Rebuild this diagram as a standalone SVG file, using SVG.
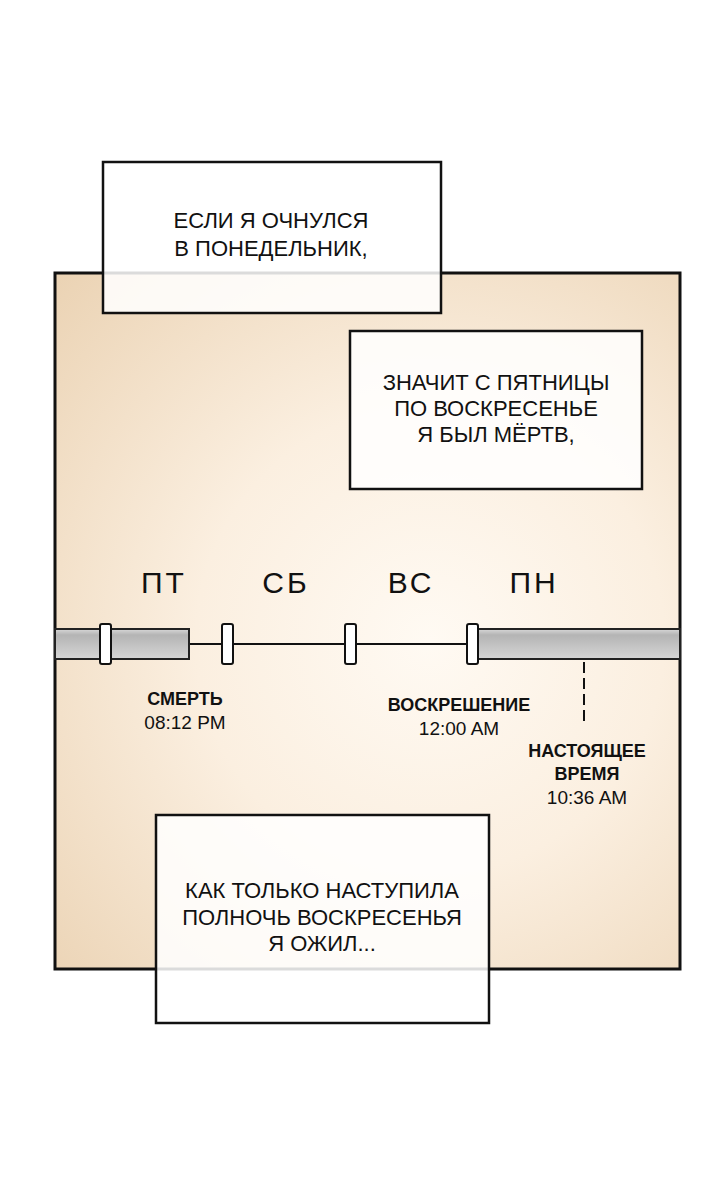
<svg xmlns="http://www.w3.org/2000/svg" width="720" height="1192" viewBox="0 0 720 1192">
<defs>
<radialGradient id="bg" cx="430" cy="640" r="520" gradientUnits="userSpaceOnUse">
<stop offset="0" stop-color="#fffaf3"/>
<stop offset="0.45" stop-color="#fbefe0"/>
<stop offset="1" stop-color="#ebd3b4"/>
</radialGradient>
<linearGradient id="bar" x1="0" y1="0" x2="0" y2="1">
<stop offset="0" stop-color="#d8d8d8"/>
<stop offset="0.2" stop-color="#b4b4b4"/>
<stop offset="1" stop-color="#d6d6d6"/>
</linearGradient>
<style>
.box{fill:#ffffff;fill-opacity:0.85;stroke:#111;stroke-width:2.5}
.bt{font-family:"Liberation Sans","DejaVu Sans",sans-serif;font-size:22px;fill:#111;text-anchor:middle}
.day{font-family:"Liberation Sans","DejaVu Sans",sans-serif;font-size:30px;letter-spacing:3px;fill:#111;text-anchor:middle}
.lb{font-family:"Liberation Sans","DejaVu Sans",sans-serif;font-size:18px;font-weight:bold;fill:#111;text-anchor:middle}
.tm{font-family:"Liberation Sans","DejaVu Sans",sans-serif;font-size:19px;fill:#111;text-anchor:middle}
.tick{fill:#fff;stroke:#111;stroke-width:2}
.barr{fill:url(#bar);stroke:#222;stroke-width:2}
</style>
</defs>
<rect width="720" height="1192" fill="#ffffff"/>
<g id="panel">
<rect x="55" y="273" width="625" height="696" fill="url(#bg)" stroke="#111" stroke-width="3"/>
</g>
<g id="days">
<text class="day" x="164" y="593">ПТ</text>
<text class="day" x="286" y="593">СБ</text>
<text class="day" x="411" y="593">ВС</text>
<text class="day" x="534" y="593">ПН</text>
</g>
<g id="connectors">
<line x1="189" y1="644" x2="478" y2="644" stroke="#111" stroke-width="2"/>
<line x1="584" y1="662" x2="584" y2="726" stroke="#111" stroke-width="2" stroke-dasharray="11,5"/>
</g>
<g id="bar-left">
<rect class="barr" x="55" y="629" width="134" height="30"/>
</g>
<g id="bar-right">
<rect class="barr" x="478" y="629" width="202" height="30"/>
</g>
<g id="ticks">
<rect class="tick" x="100" y="624" width="11" height="40" rx="2"/>
<rect class="tick" x="222" y="624" width="11" height="40" rx="2"/>
<rect class="tick" x="345" y="624" width="11" height="40" rx="2"/>
<rect class="tick" x="467" y="624" width="11" height="40" rx="2"/>
</g>
<g id="label-death">
<text class="lb" x="185" y="705">СМЕРТЬ</text>
<text class="tm" x="185" y="729">08:12 PM</text>
</g>
<g id="label-resurrection">
<text class="lb" x="459" y="711">ВОСКРЕШЕНИЕ</text>
<text class="tm" x="459" y="735">12:00 AM</text>
</g>
<g id="label-now">
<text class="lb" x="587" y="757">НАСТОЯЩЕЕ</text>
<text class="lb" x="587" y="780">ВРЕМЯ</text>
<text class="tm" x="587" y="804">10:36 AM</text>
</g>
<g id="box1">
<rect class="box" x="103" y="162" width="338" height="151"/>
<text class="bt" x="271" y="228">ЕСЛИ Я ОЧНУЛСЯ</text>
<text class="bt" x="271" y="256">В ПОНЕДЕЛЬНИК,</text>
</g>
<g id="box2">
<rect class="box" x="350" y="331" width="292" height="158"/>
<text class="bt" x="496" y="390">ЗНАЧИТ С ПЯТНИЦЫ</text>
<text class="bt" x="496" y="416">ПО ВОСКРЕСЕНЬЕ</text>
<text class="bt" x="496" y="442">Я БЫЛ МЁРТВ,</text>
</g>
<g id="box3">
<rect class="box" x="156" y="815" width="333" height="208"/>
<text class="bt" x="322" y="898">КАК ТОЛЬКО НАСТУПИЛА</text>
<text class="bt" x="322" y="925">ПОЛНОЧЬ ВОСКРЕСЕНЬЯ</text>
<text class="bt" x="322" y="951">Я ОЖИЛ...</text>
</g>
</svg>
